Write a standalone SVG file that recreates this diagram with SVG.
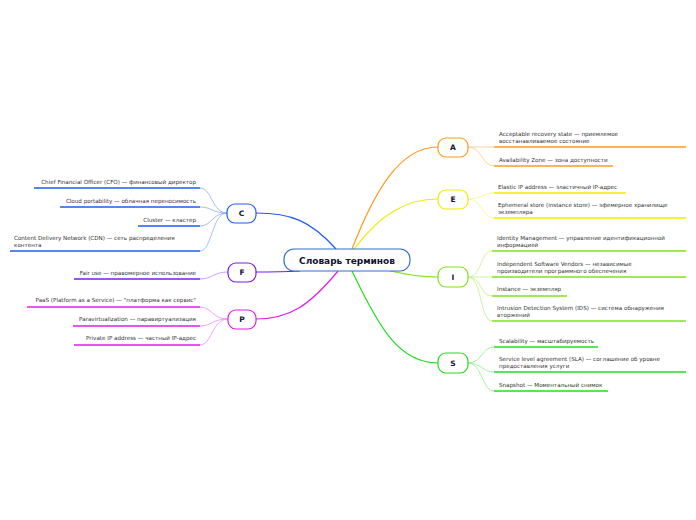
<svg xmlns="http://www.w3.org/2000/svg" width="696" height="520" viewBox="0 0 696 520">
<style>
text{font-family:"DejaVu Sans","Noto Sans",sans-serif;fill:#333}
.l{font-size:5.6px}
.r{text-anchor:end}
.n{font-size:7.5px;font-weight:bold;text-anchor:middle;fill:#113}
.c{fill:none}
.u{stroke-width:1.6}
.b{fill:#fff;stroke-width:1.2}
</style>
<rect width="696" height="520" fill="#fff"/>
<g id="connectors" class="c">
<path d="M352,249 C375,190 400,147 438,147" stroke="#ff9a1f" class="c" stroke-width="1.2"/>
<path d="M354,249 C380,215 405,199 438,199" stroke="#f0ec00" class="c" stroke-width="1.2"/>
<path d="M390,271 C410,275 420,277 438,277" stroke="#7fe21c" class="c" stroke-width="1.2"/>
<path d="M352,271 C380,330 400,363 438,363" stroke="#22dd22" class="c" stroke-width="1.2"/>
<path d="M336,249 C310,220 290,213 256,213" stroke="#1e5cf0" class="c" stroke-width="1.2"/>
<path d="M300,271 C280,272 270,272 256,272" stroke="#7a1af0" class="c" stroke-width="1.2"/>
<path d="M338,271 C310,305 290,319 256,319" stroke="#e01ee6" class="c" stroke-width="1.2"/>
<g stroke="#ffc98a" stroke-width="0.8" fill="none">
<path d="M468,147 C480,147 482,147 494,147"/><path d="M468,147 C482,147 482,166 494,166"/></g>
<g stroke="#f7f48a" stroke-width="0.8" fill="none">
<path d="M468,199 C482,199 482,193 494,193"/><path d="M468,199 C482,199 482,218 494,218"/></g>
<g stroke="#bff08e" stroke-width="0.8" fill="none">
<path d="M468,277 C482,277 480,251 492,251"/><path d="M468,277 C482,277 480,277 492,277"/><path d="M468,277 C482,277 480,296 492,296"/><path d="M468,277 C482,277 480,321 492,321"/></g>
<g stroke="#90ee90" stroke-width="0.8" fill="none">
<path d="M468,363 C482,363 482,347 494,347"/><path d="M468,363 C482,363 482,372 494,372"/><path d="M468,363 C482,363 482,391 494,391"/></g>
<g stroke="#8fadf7" stroke-width="0.8" fill="none">
<path d="M227,213 C212,213 212,188 200,188"/><path d="M227,213 C212,213 212,207 200,207"/><path d="M227,213 C212,213 212,226 200,226"/><path d="M227,213 C212,213 212,251 200,251"/></g>
<path d="M228,272 C214,272 212,279 200,279" stroke="#b88cf7" stroke-width="0.8" fill="none"/>
<g stroke="#f08ef2" stroke-width="0.8" fill="none">
<path d="M228,319 C212,319 212,307 200,307"/><path d="M228,319 C212,319 212,326 200,326"/><path d="M228,319 C212,319 212,345 200,345"/></g>
<g class="u" fill="none">
<path d="M494,147H686M494,166H613" stroke="#ff9a1f"/>
<path d="M494,193H626M494,218H686" stroke="#f0ec00"/>
<path d="M492,251H686M492,277H686M492,296H567M492,321H686" stroke="#7fe21c"/>
<path d="M494,347H598M494,372H686M494,391H608" stroke="#22dd22"/>
<path d="M34,188H200M60,207H200M138,226H200M10,251H200" stroke="#1e5cf0"/>
<path d="M74,279H200" stroke="#7a1af0"/>
<path d="M27,307H200M73,326H200M74,345H200" stroke="#e01ee6"/>
</g>
</g>
<g id="center"><rect x="284" y="249" width="126" height="22" rx="10" class="b" stroke="#2d6fd0"/><text x="347" y="263.5" class="n" style="font-size:9px">Словарь терминов</text></g>
<g id="A"><rect x="438" y="138" width="30" height="19" rx="8" class="b" stroke="#ff9a1f"/><text x="453" y="150" class="n">A</text></g>
<g id="E"><rect x="438" y="190" width="30" height="19" rx="8" class="b" stroke="#f0ec00"/><text x="453" y="202" class="n">E</text></g>
<g id="I"><rect x="438" y="267" width="30" height="20" rx="8" class="b" stroke="#7fe21c"/><text x="453" y="280" class="n">I</text></g>
<g id="S"><rect x="438" y="353" width="30" height="20" rx="8" class="b" stroke="#22dd22"/><text x="453" y="366" class="n">S</text></g>
<g id="C"><rect x="227" y="204" width="29" height="19" rx="8" class="b" stroke="#1e5cf0"/><text x="241.5" y="216" class="n">C</text></g>
<g id="F"><rect x="228" y="263" width="28" height="19" rx="8" class="b" stroke="#7a1af0"/><text x="242" y="275" class="n">F</text></g>
<g id="P"><rect x="228" y="310" width="28" height="19" rx="8" class="b" stroke="#e01ee6"/><text x="242" y="322" class="n">P</text></g>
<g id="leaves" class="l">
<text x="499" y="136">Acceptable  recovery state —  приемлемое</text>
<text x="499" y="143">восстанавливаемое состояние</text>
<text x="499" y="162">Availability Zone — зона доступности</text>
<text x="498" y="189">Elastic IP address — эластичный IP-адрес</text>
<text x="498" y="207">Ephemeral store (instance store) — эфемерное хранилище</text>
<text x="498" y="214">экземпляра</text>
<text x="497" y="240">Identity Management — управление идентификационной</text>
<text x="497" y="247">информацией</text>
<text x="497" y="266">Independent Software Vendors — независимые</text>
<text x="497" y="273">производители программного обеспечения</text>
<text x="497" y="291">Instance — экземпляр</text>
<text x="497" y="310">Intrusion Detection System (IDS) — система обнаружения</text>
<text x="497" y="317">вторжений</text>
<text x="499" y="343">Scalability — масштабируемость</text>
<text x="499" y="361">Service level agreement (SLA) — соглашение об уровне</text>
<text x="499" y="368">предоставления услуги</text>
<text x="499" y="387">Snapshot — Моментальный снимок</text>
<text x="196" y="184" class="r">Chief Financial Officer (CFO) — финансовый директор</text>
<text x="196" y="203" class="r">Cloud portability — облачная переносимость</text>
<text x="196" y="222" class="r">Cluster — кластер</text>
<text x="14" y="240">Content Delivery Network (CDN) — сеть распределения</text>
<text x="14" y="247">контента</text>
<text x="196" y="275" class="r">Fair use — правомерное использование</text>
<text x="196" y="302" class="r">PaaS (Platform as a Service) — "платформа как сервис"</text>
<text x="196" y="321" class="r">Paravirtualization — паравиртуализация</text>
<text x="196" y="340" class="r">Private IP address — частный IP-адрес</text>
</g>
</svg>
